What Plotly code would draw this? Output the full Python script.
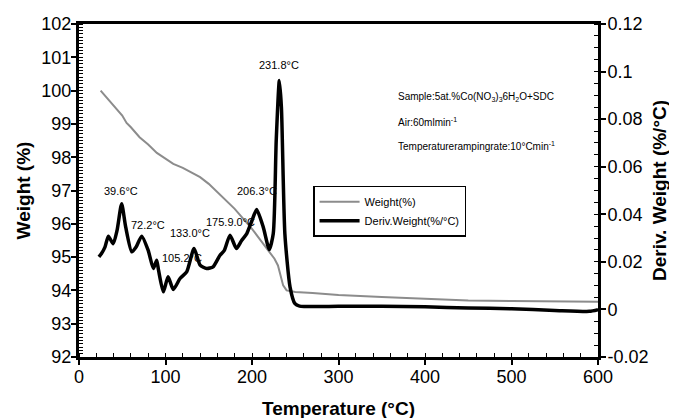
import plotly.graph_objects as go

# Weight (%) curve - left axis
temp_w = [25, 30, 40, 50, 55, 60, 70, 80, 90, 100, 109, 120, 130, 140, 150, 160, 170, 180,
          190, 200, 210, 220, 226, 230, 233, 236, 240, 250, 270, 300, 350, 400, 450, 500, 550, 600]
weight = [100.0, 99.85, 99.55, 99.25, 99.03, 98.9, 98.6, 98.38, 98.13, 97.95, 97.8, 97.68, 97.55,
          97.4, 97.2, 96.95, 96.72, 96.45, 96.15, 95.85, 95.5, 95.15, 94.95, 94.75, 94.4, 94.15,
          94.0, 93.95, 93.92, 93.86, 93.8, 93.74, 93.7, 93.68, 93.66, 93.66]

# Derivative weight (%/°C) curve - right axis
temp_d = [23, 26, 30, 34, 39.5, 44, 49.3, 54, 61, 66, 72.5, 80, 86, 89.8, 92, 97.5, 103, 109,
          116.8, 124.5, 133, 140, 147.6, 155, 163, 168, 174.6, 182, 188, 194, 200, 205.4, 213,
          220, 224.6, 228, 231.6, 234, 238, 244, 249.7, 255, 300, 350, 400, 450, 500, 550, 590, 600]
deriv = [0.0221, 0.0235, 0.0262, 0.0308, 0.0276, 0.0332, 0.0444, 0.0346, 0.0242, 0.0262, 0.0308,
         0.0248, 0.0172, 0.0207, 0.0164, 0.0074, 0.0137, 0.0084, 0.0130, 0.0158, 0.0256, 0.0186,
         0.0172, 0.0179, 0.0228, 0.0248, 0.0312, 0.0256, 0.0290, 0.0319, 0.0374, 0.0420, 0.0346,
         0.0252, 0.0319, 0.0710, 0.0962, 0.0850, 0.0318, 0.0094, 0.0024, 0.0014, 0.0013, 0.0013,
         0.0011, 0.0006, 0.0003, -0.0004, -0.0008, -0.0001]

# Right-axis tick labels
y2_tickvals = [-0.02, 0, 0.02, 0.04, 0.06, 0.08, 0.1, 0.12]
y2_ticktext = ["-0.02", "0", "0.02", "0.04", "0.06", "0.08", "0.1", "0.12"]

# Peak labels (text, temperature position, weight-axis position)
peak_text = ["231.8°C", "39.6°C", "72.2°C", "133.0°C", "105.2°C", "175.9.0°C", "206.3°C"]
peak_x = [231, 48.6, 80, 128.5, 119, 174.6, 205.8]
peak_y = [100.77, 96.98, 95.96, 95.72, 94.97, 96.05, 96.98]

info_lines = ["Sample:5at.%Co(NO<sub>3</sub>)<sub>3</sub>6H<sub>2</sub>O+SDC",
              "Air:60mlmin<sup>-1</sup>",
              "Temperaturerampingrate:10°Cmin<sup>-1</sup>"]
info_y = [99.81, 99.06, 98.34]

FONT = "Liberation Sans, Arial, sans-serif"

fig = go.Figure()
fig.add_trace(go.Scatter(x=temp_w, y=weight, mode="lines", name="Weight(%)",
                         line=dict(color="#8c8c8c", width=2)))
fig.add_trace(go.Scatter(x=temp_d, y=deriv, mode="lines", name="Deriv.Weight(%/°C)",
                         line=dict(color="black", width=3.5, shape="spline", smoothing=0.6),
                         yaxis="y2"))

for t, x, y in zip(peak_text, peak_x, peak_y):
    fig.add_annotation(x=x, y=y, xref="x", yref="y", text=t, showarrow=False,
                       font=dict(size=11, color="#000000", family=FONT))
for t, y in zip(info_lines, info_y):
    fig.add_annotation(x=366, y=y, xref="x", yref="y", text=t, showarrow=False,
                       xanchor="left", font=dict(size=10, color="#000000", family=FONT))

axis_common = dict(showgrid=False, zeroline=False, showline=True, linecolor="black", linewidth=3,
                   ticks="outside", ticklen=5, tickwidth=2, tickcolor="black", automargin=False,
                   tickfont=dict(size=18, color="black", family=FONT))

fig.update_layout(
    width=677, height=418,
    margin=dict(l=71, r=87, t=16, b=69),
    paper_bgcolor="white", plot_bgcolor="white",
    font=dict(family=FONT, color="black"),
    xaxis=dict(range=[0, 600], dtick=100, mirror=True, ticklabelstandoff=-4,
               minor=dict(ticks="inside", dtick=20, ticklen=4, tickcolor="black", tickwidth=1),
               title=dict(text="<b>Temperature (°C)</b>", font=dict(size=19, family=FONT), standoff=17),
               **axis_common),
    yaxis=dict(range=[92, 102], dtick=1, ticklabelstandoff=-4,
               minor=dict(ticks="inside", dtick=0.1, ticklen=4, tickcolor="black", tickwidth=1),
               title=dict(text="<b>Weight (%)</b>", font=dict(size=19, family=FONT), standoff=6),
               **axis_common),
    yaxis2=dict(range=[-0.02, 0.12], overlaying="y", side="right", ticklabelstandoff=-2,
                tickmode="array", tickvals=y2_tickvals, ticktext=y2_ticktext,
                minor=dict(ticks="inside", dtick=0.005, ticklen=4, tickcolor="black", tickwidth=1),
                title=dict(text="<b>Deriv. Weight (%/°C)</b>", font=dict(size=19, family=FONT), standoff=6),
                **axis_common),
    legend=dict(x=0.451, y=0.514, xanchor="left", yanchor="top",
                bgcolor="white", bordercolor="black", borderwidth=1.5,
                font=dict(size=11, family=FONT, color="black"),
                tracegroupgap=2, itemwidth=40),
    showlegend=True,
)

fig.write_html("out.html")
